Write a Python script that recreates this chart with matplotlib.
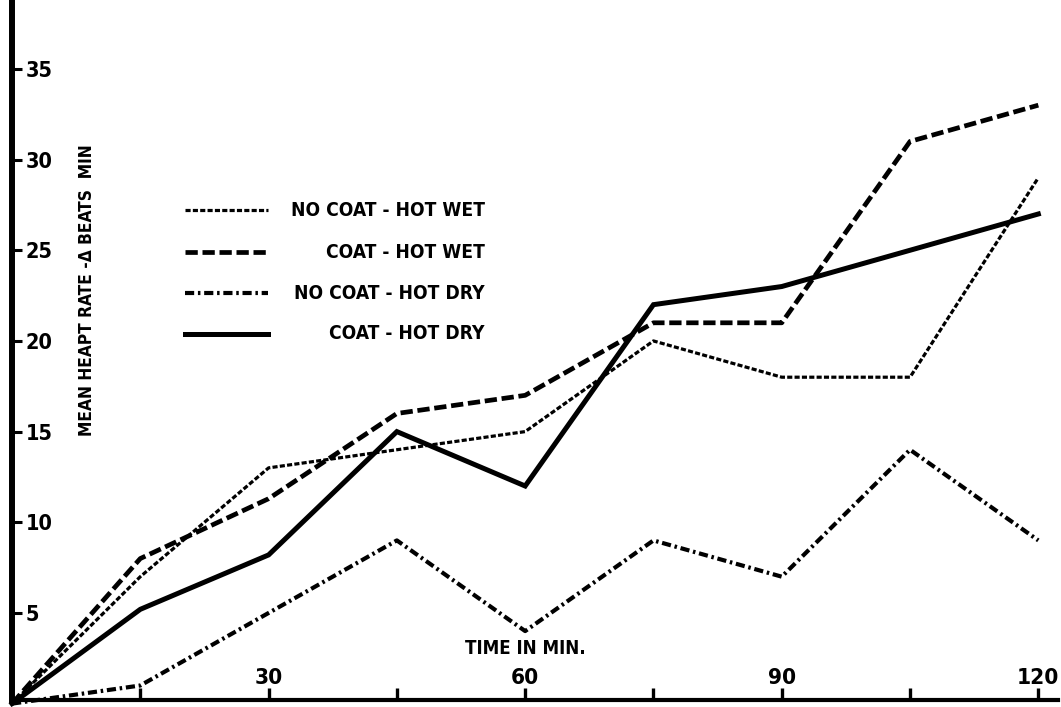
import matplotlib

matplotlib.use("Agg")
import matplotlib.pyplot as plt  # noqa: E402
from matplotlib import font_manager as fm  # noqa: E402
from matplotlib.ticker import FixedLocator, NullFormatter  # noqa: E402

# time points (minutes) and mean heart-rate change (beats/min)
minutes = [0, 15, 30, 45, 60, 75, 90, 105, 120]
no_coat_hot_wet = [0, 7, 13, 14, 15, 20, 18, 18, 29]
coat_hot_wet = [0, 8, 11.3, 16, 17, 21, 21, 31, 33]
no_coat_hot_dry = [0, 1, 5, 9, 4, 9, 7, 14, 9]
coat_hot_dry = [0, 5.2, 8.2, 15, 12, 22, 23, 25, 27]

series_labels = ["NO COAT - HOT WET", "COAT - HOT WET",
                 "NO COAT - HOT DRY", "COAT - HOT DRY"]
y_ticks = [5, 10, 15, 20, 25, 30, 35]
x_major = [30, 60, 90, 120]
x_minor = [15, 45, 75, 105]

INK = "#000000"


def pick_font():
    """Prefer a narrow bold face like the typewriter-era lettering."""
    fonts = fm.fontManager.ttflist
    if any(f.name == "Liberation Sans Narrow" for f in fonts):
        return "Liberation Sans Narrow", "normal"
    for f in fonts:
        if f.name == "DejaVu Sans" and "condensed" in str(f.stretch):
            return "DejaVu Sans", "condensed"
    return "Liberation Sans", "normal"


FAMILY, STRETCH = pick_font()
TXT = dict(family=[FAMILY, "DejaVu Sans"], fontweight="bold",
           fontstretch=STRETCH)

W, H = 1061, 707
fig = plt.figure(figsize=(W / 100, H / 100), dpi=100)
ax = fig.add_axes([12 / W, 7 / H, (1058 - 12) / W, (707 - 7) / H])

styles = [
    dict(lw=2.3, ls=(0, (1.6, 0.7))),            # dotted
    dict(lw=3.4, ls=(0, (2.6, 1.0))),            # dashed
    dict(lw=3.0, ls=(0, (2.2, 0.9, 0.6, 0.9))),  # dash-dot
    dict(lw=3.6, ls="-"),                        # solid
]
series = [no_coat_hot_wet, coat_hot_wet, no_coat_hot_dry, coat_hot_dry]
for vals, st in zip(series, styles):
    ax.plot(minutes, vals, color=INK, solid_joinstyle="miter",
            clip_on=False, **st)

ax.set_xlim(0, 122.3)
ax.set_ylim(0.2, 38.8)

for side in ("top", "right"):
    ax.spines[side].set_visible(False)
ax.spines["left"].set_linewidth(4.3)
ax.spines["bottom"].set_linewidth(3.0)

# y ticks point inward, labels sit inside the axes
ax.set_yticks(y_ticks)
ax.set_yticklabels([str(v) for v in y_ticks])
ax.tick_params(axis="y", direction="in", length=7, width=2.2, pad=-10)

# x ticks every 15 min, labels only every 30 min, drawn above the axis
ax.xaxis.set_major_locator(FixedLocator(x_major))
ax.xaxis.set_minor_locator(FixedLocator(x_minor))
ax.set_xticklabels([str(v) for v in x_major])
ax.xaxis.set_minor_formatter(NullFormatter())
ax.tick_params(axis="x", which="both", direction="in", length=9, width=2.4,
               pad=-9)

for t in ax.get_yticklabels():
    t.set_horizontalalignment("left")
    t.set(**TXT)
for t in ax.get_xticklabels():
    t.set_verticalalignment("bottom")
    t.set(**TXT)

time_lbl = ax.text(60, 2.5, "TIME IN MIN.", ha="center", va="bottom",
                   fontsize=14, **TXT)
y_lbl = ax.text(0.072, 0.585, "MEAN HEAPT RATE -\u0394 BEATS  MIN",
                rotation=90, transform=ax.transAxes, ha="center",
                va="center", fontsize=14, **TXT)

# hand-placed legend: short key line + right-aligned label
leg_y = [0.70, 0.64, 0.581, 0.523]
leg_txt = []
for st, lab, yy in zip(styles, series_labels, leg_y):
    ax.plot([0.1654, 0.2447], [yy, yy], transform=ax.transAxes, color=INK,
            clip_on=False, **st)
    leg_txt.append(ax.text(0.452, yy, lab, transform=ax.transAxes,
                           ha="right", va="center", fontsize=14, **TXT))

# size the lettering to the widths measured on the scan (pixels)
fig.canvas.draw()
rend = fig.canvas.get_renderer()
PX_PER_PT = 100 / 72


def width_size(txt, target_w):
    ext = txt.get_window_extent(rend)
    span = ext.height if txt.get_rotation() == 90 else ext.width
    return txt.get_fontsize() * target_w / span


legend_size = min(width_size(t, 195) for t in leg_txt[::2])
for t in leg_txt:
    t.set_fontsize(legend_size)
time_lbl.set_fontsize(width_size(time_lbl, 122))
y_lbl.set_fontsize(width_size(y_lbl, 295))

# tick labels: mostly the scan's width, nudged toward its digit height
xt = ax.get_xticklabels()[-1]
sx = width_size(xt, 40) ** 0.8 * (21 / (0.73 * PX_PER_PT)) ** 0.2
yt = ax.get_yticklabels()[-1]
sy = (width_size(yt, 25) * (17 / (0.73 * PX_PER_PT))) ** 0.5
ax.tick_params(axis="x", labelsize=sx)
ax.tick_params(axis="y", labelsize=sy)

fig.savefig("out.png", dpi=100)
